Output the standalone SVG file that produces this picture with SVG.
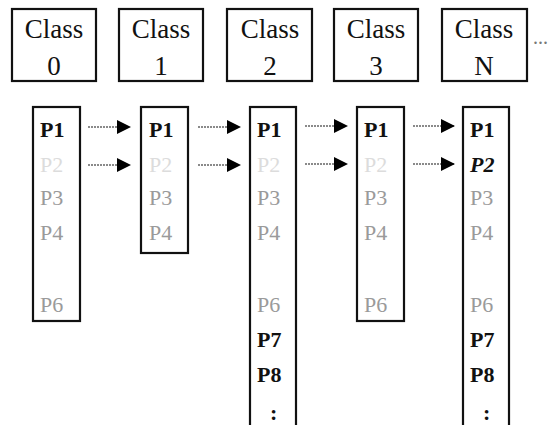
<svg xmlns="http://www.w3.org/2000/svg" width="556" height="425" viewBox="0 0 556 425">
<defs>
<style>
.cls{fill:#fff;stroke:#111;stroke-width:2.2}
.col{fill:#fff;stroke:#111;stroke-width:2.2}
.ct{font-family:"Liberation Serif","DejaVu Serif",serif;font-size:27px;fill:#111;text-anchor:middle}
.pt{font-family:"Liberation Serif","DejaVu Serif",serif;font-size:22px}
.blk{fill:#111;font-weight:bold}
.gry{fill:#9a9a9a}
.fnt{fill:#dcdcdc}
.ita{fill:#111;font-style:italic;font-weight:bold}
.dots{font-family:"Liberation Serif",serif;font-size:20px;fill:#777}
.arr{stroke:#8a8a8a;stroke-width:2;stroke-dasharray:2 1;fill:none;marker-end:url(#ah)}
</style>
<marker id="ah" markerUnits="userSpaceOnUse" markerWidth="14" markerHeight="14" refX="13" refY="7" orient="auto">
<path d="M0,0 L14,7 L0,14 z" fill="#000"/>
</marker>
</defs>

<g id="class0"><rect class="cls" x="12" y="9" width="84" height="72"/><text class="ct" x="54" y="38">Class</text><text class="ct" x="54" y="75">0</text></g>
<g id="class1"><rect class="cls" x="119" y="9" width="84" height="72"/><text class="ct" x="161" y="38">Class</text><text class="ct" x="161" y="75">1</text></g>
<g id="class2"><rect class="cls" x="227" y="9" width="85" height="72"/><text class="ct" x="270" y="38">Class</text><text class="ct" x="270" y="75">2</text></g>
<g id="class3"><rect class="cls" x="334" y="9" width="84" height="72"/><text class="ct" x="376" y="38">Class</text><text class="ct" x="376" y="75">3</text></g>
<g id="classN"><rect class="cls" x="442" y="9" width="85" height="72"/><text class="ct" x="484" y="38">Class</text><text class="ct" x="484" y="75">N</text></g>
<text class="dots" x="533" y="44">...</text>

<g id="col0"><rect class="col" x="33" y="107" width="47" height="214"/>
<text class="pt blk" x="40" y="137">P1</text>
<text class="pt fnt" x="40" y="172">P2</text>
<text class="pt gry" x="40" y="205">P3</text>
<text class="pt gry" x="40" y="240">P4</text>
<text class="pt gry" x="40" y="312">P6</text></g>

<g id="col1"><rect class="col" x="141" y="107" width="47" height="146"/>
<text class="pt blk" x="149" y="137">P1</text>
<text class="pt fnt" x="149" y="172">P2</text>
<text class="pt gry" x="149" y="205">P3</text>
<text class="pt gry" x="149" y="240">P4</text></g>

<g id="col2"><rect class="col" x="250" y="107" width="46" height="330"/>
<text class="pt blk" x="257" y="137">P1</text>
<text class="pt fnt" x="257" y="172">P2</text>
<text class="pt gry" x="257" y="205">P3</text>
<text class="pt gry" x="257" y="240">P4</text>
<text class="pt gry" x="257" y="312">P6</text>
<text class="pt blk" x="257" y="347">P7</text>
<text class="pt blk" x="257" y="382">P8</text>
<text class="pt blk" x="270" y="420" font-size="28">:</text></g>

<g id="col3"><rect class="col" x="357" y="107" width="47" height="214"/>
<text class="pt blk" x="364" y="137">P1</text>
<text class="pt fnt" x="364" y="172">P2</text>
<text class="pt gry" x="364" y="205">P3</text>
<text class="pt gry" x="364" y="240">P4</text>
<text class="pt gry" x="364" y="312">P6</text></g>

<g id="colN"><rect class="col" x="463" y="107" width="46" height="330"/>
<text class="pt blk" x="470" y="137">P1</text>
<text class="pt ita" x="470" y="172">P2</text>
<text class="pt gry" x="470" y="205">P3</text>
<text class="pt gry" x="470" y="240">P4</text>
<text class="pt gry" x="470" y="312">P6</text>
<text class="pt blk" x="470" y="347">P7</text>
<text class="pt blk" x="470" y="382">P8</text>
<text class="pt blk" x="483" y="420" font-size="28">:</text></g>

<g id="connectors">
<line class="arr" x1="88" y1="127" x2="130" y2="127"/>
<line class="arr" x1="88" y1="165" x2="130" y2="165"/>
<line class="arr" x1="198" y1="127" x2="240" y2="127"/>
<line class="arr" x1="198" y1="165" x2="240" y2="165"/>
<line class="arr" x1="305" y1="126" x2="347" y2="126"/>
<line class="arr" x1="305" y1="164" x2="347" y2="164"/>
<line class="arr" x1="413" y1="126" x2="454" y2="126"/>
<line class="arr" x1="413" y1="164" x2="454" y2="164"/>
</g>
</svg>
